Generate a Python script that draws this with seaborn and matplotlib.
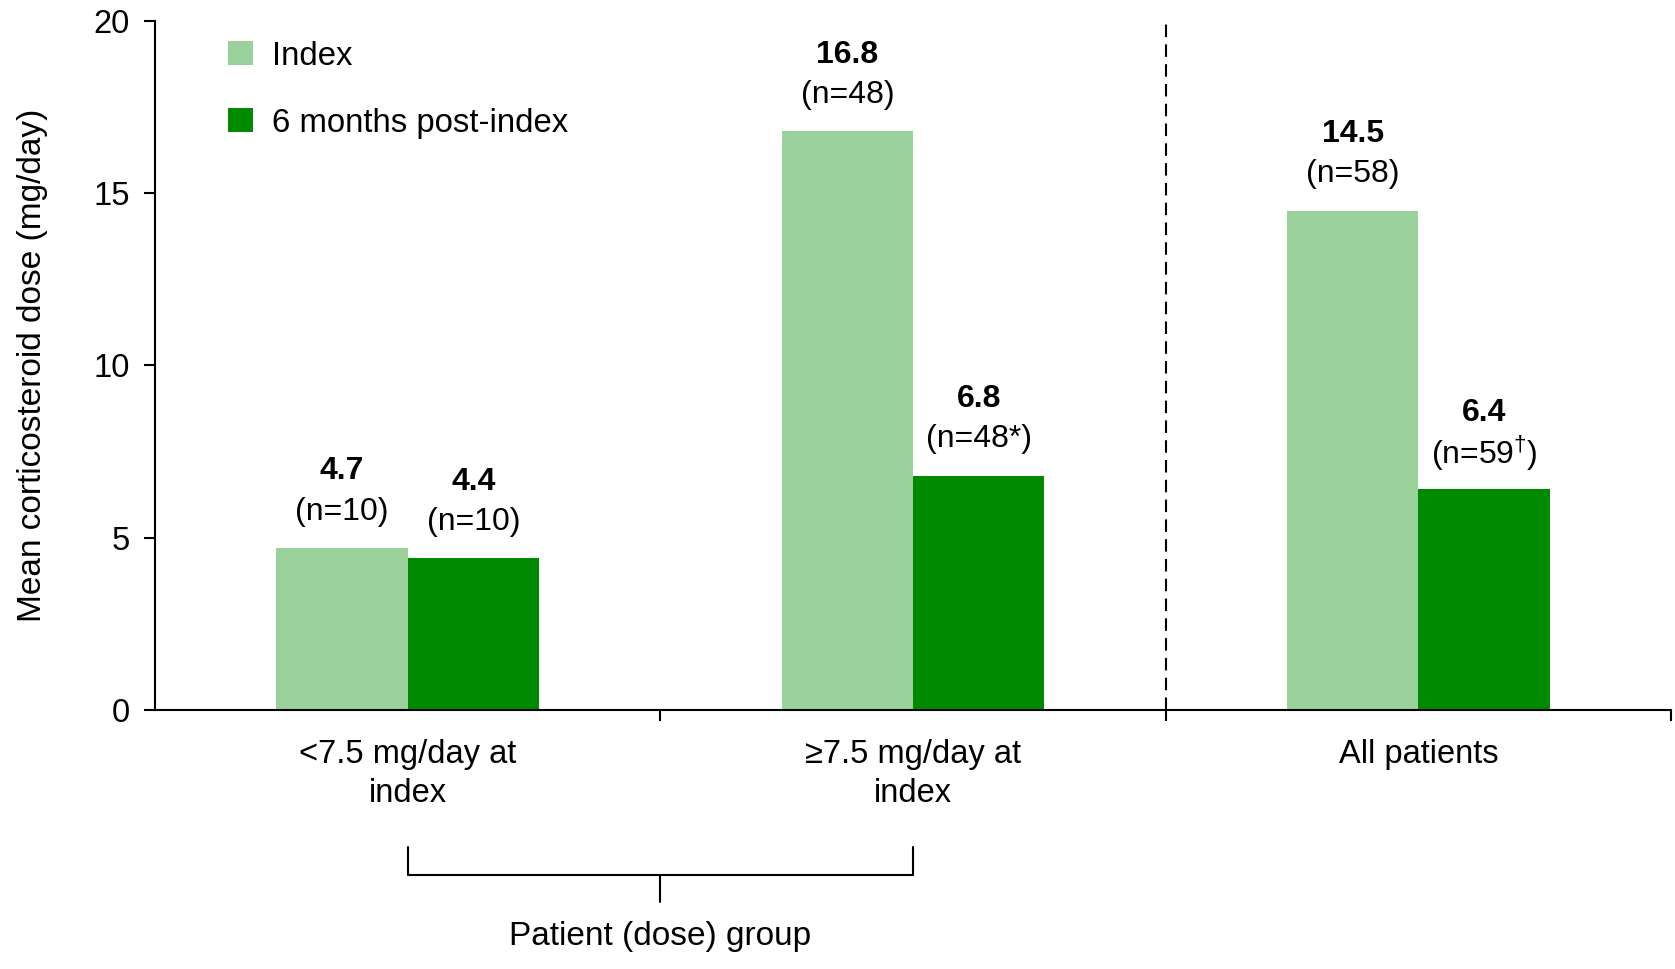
import pandas as pd
import matplotlib.pyplot as plt
import seaborn as sns

# data
groups = ['<7.5 mg/day at\nindex', '≥7.5 mg/day at\nindex', 'All patients']
periods = ['Index', '6 months post-index']
index_dose = [4.7, 16.8, 14.5]
post_dose = [4.4, 6.8, 6.4]
index_n = ['(n=10)', '(n=48)', '(n=58)']
post_n = ['(n=10)', '(n=48*)', r'(n=59$^{\dagger}$)']

sns.set_theme(style='ticks')
plt.rcParams['font.family'] = ['Liberation Sans', 'DejaVu Sans']
plt.rcParams['font.size'] = 23
plt.rcParams['text.color'] = 'black'
plt.rcParams['axes.labelcolor'] = 'black'
plt.rcParams['xtick.color'] = 'black'
plt.rcParams['ytick.color'] = 'black'
plt.rcParams['mathtext.fontset'] = 'custom'
plt.rcParams['mathtext.rm'] = 'Liberation Sans'

df = pd.DataFrame({
    'group': groups * 2,
    'dose': index_dose + post_dose,
    'period': [periods[0]] * 3 + [periods[1]] * 3,
})

fig = plt.figure(figsize=(16.75, 9.69), dpi=100)
ax = fig.add_axes([0.0926, 0.2677, 0.905, 0.7103])

sns.barplot(data=df, x='group', y='dose', hue='period', hue_order=periods,
            palette=['#9AD09A', '#008A00'], width=0.52, gap=0, saturation=1,
            linewidth=0, ax=ax)

# value + n labels above each bar
for cont, vals, ns in zip(ax.containers, [index_dose, post_dose], [index_n, post_n]):
    for bar, v, n in zip(cont, vals, ns):
        xc = bar.get_x() + bar.get_width() / 2
        ax.annotate(f'{v:.1f}', (xc, v), xytext=(0, 55), textcoords='offset points',
                    ha='center', va='center', fontweight='bold', fontsize=23)
        ax.annotate(n, (xc, v), xytext=(0, 26), textcoords='offset points',
                    ha='center', va='center', fontsize=23)

ax.set_xlim(-0.5, 2.5)
ax.set_ylim(0, 20)
ax.set_yticks([0, 5, 10, 15, 20])
ax.set_xlabel('')
ax.set_ylabel('Mean corticosteroid dose (mg/day)', fontsize=24)
ax.yaxis.set_label_coords(-0.0705, 0.5)

ax.set_xticks([0.5, 1.5, 2.5], minor=True)
ax.tick_params(axis='x', which='major', length=0, pad=21, labelsize=23.5)
ax.tick_params(axis='x', which='minor', length=8, width=1.5, direction='out')
ax.tick_params(axis='y', length=8, width=1.5, pad=10, labelsize=23.5)
for lbl in ax.get_xticklabels():
    lbl.set_linespacing(1.35)

for s in ['top', 'right']:
    ax.spines[s].set_visible(False)
for s in ['left', 'bottom']:
    ax.spines[s].set_linewidth(1.5)
    ax.spines[s].set_color('black')

# dashed separator before "All patients"
ax.plot([1.5, 1.5], [0, 20], color='black', lw=1.5, ls=(0, (6, 3.5)))

# bracket grouping the two dose groups
ax.plot([0, 0, 1, 1], [-4.0, -4.8, -4.8, -4.0], color='black', lw=1.5, clip_on=False)
ax.plot([0.5, 0.5], [-4.8, -5.6], color='black', lw=1.5, clip_on=False)
ax.text(0.5, -6.6, 'Patient (dose) group', ha='center', va='center', fontsize=24,
        clip_on=False)

ax.legend(loc='upper left', bbox_to_anchor=(0.048, 0.972), frameon=False,
          borderaxespad=0, borderpad=0, handlelength=0.75, handleheight=0.75,
          handletextpad=0.6, labelspacing=1.1, fontsize=23.7)

fig.savefig('out.png', dpi=100)
